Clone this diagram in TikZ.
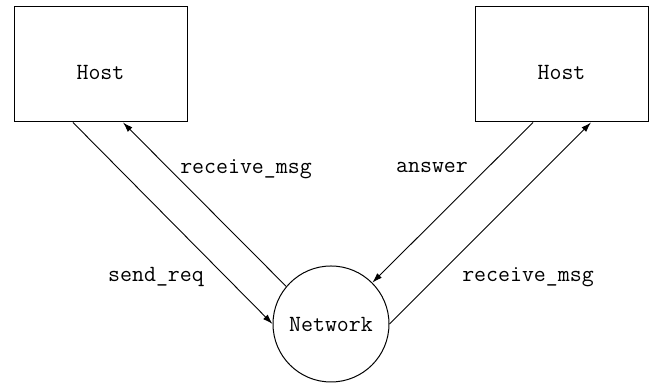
\documentclass[tikz,border=0pt]{standalone}
\usepackage{fontspec}
\usetikzlibrary{arrows.meta}

\tikzset{
  hostbox/.style={draw, rectangle, line width=0.5pt, inner sep=0pt,
    minimum width=86.5pt, text height=36.5pt, text depth=21pt},
  netcircle/.style={draw, circle, line width=0.5pt, inner sep=0pt,
    minimum size=58pt},
  msg/.style={-{Latex[length=5pt,width=3.2pt]}, line width=0.45pt},
  msglabel/.style={anchor=base, inner sep=0pt}
}

\begin{document}
\begin{tikzpicture}[x=0.5pt, y=-0.5pt, font=\ttfamily\fontsize{11.6}{13}\selectfont]

  \useasboundingbox (0,0) rectangle (654,383);

  % Hosts
  \draw (100.5,64.5) node[hostbox] (lhost) {Host};
  \draw (561.5,64.5) node[hostbox] (rhost) {Host};

  % Network
  \draw (331,324) node[netcircle] (net) {Network};

  % Left side messages
  \draw[msg] ([xshift=-13.75pt]lhost.south) -- (net.west);
  \draw[msg] (net.140) -- ([xshift=11.25pt]lhost.south);
  \draw (156,282) node[msglabel] (sendreq) {send\_req};
  \draw (246,174) node[msglabel] (lrecv) {receive\_msg};

  % Right side messages
  \draw[msg] ([xshift=-14.25pt]rhost.south) -- (net.45);
  \draw[msg] (net.east) -- ([xshift=14.75pt]rhost.south);
  \draw (432,173) node[msglabel] (answer) {answer};
  \draw (528,282) node[msglabel] (rrecv) {receive\_msg};

\end{tikzpicture}
\end{document}
